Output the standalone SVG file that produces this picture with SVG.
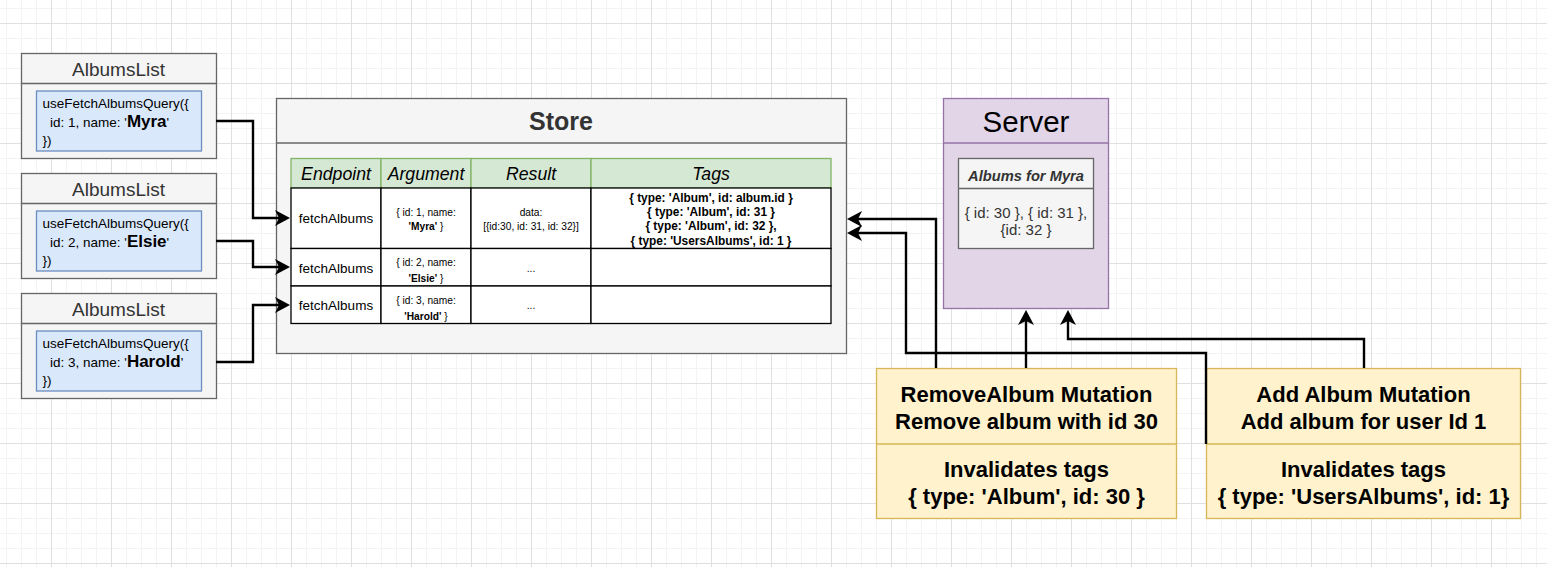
<svg xmlns="http://www.w3.org/2000/svg" width="1547" height="567" viewBox="0 0 1547 567">
<defs>
<pattern id="grid" x="51" y="23" width="60" height="60" patternUnits="userSpaceOnUse">
<rect x="0" y="0" width="60" height="60" fill="#ffffff"/>
<g fill="#f3f3f3">
<rect x="15" y="0" width="1" height="60"/><rect x="30" y="0" width="1" height="60"/><rect x="45" y="0" width="1" height="60"/>
<rect x="0" y="15" width="60" height="1"/><rect x="0" y="30" width="60" height="1"/><rect x="0" y="45" width="60" height="1"/>
</g>
<g fill="#e0e0e0"><rect x="0" y="0" width="1" height="60"/><rect x="0" y="0" width="60" height="1"/></g>
</pattern>
<marker id="arr" viewBox="0 -8 16 16" markerWidth="16" markerHeight="16" refX="4" refY="0" orient="auto" markerUnits="userSpaceOnUse" overflow="visible">
<path d="M0,-8 L15,0 L0,8 L4,0 Z" fill="#000"/>
</marker>
</defs>
<style>
text{font-family:"Liberation Sans",Arial,Helvetica,sans-serif}
.gray{fill:#f5f5f5;stroke:#666666;stroke-width:1.3}
.blue{fill:#dae8fc;stroke:#6c8ebf;stroke-width:1.3}
.sep{stroke:#666666;stroke-width:1.3;fill:none}
.ttl{font-size:19px;fill:#333333;text-anchor:middle}
.code{font-size:13.5px;fill:#000}
.nm{font-size:17px;font-weight:bold}
.th{fill:#d5e8d4;stroke:#82b366;stroke-width:1.3}
.hd{font-size:17.7px;font-style:italic;text-anchor:middle;fill:#000}
.cell{fill:#ffffff;stroke:#000;stroke-width:1.3}
.ep{font-size:13.5px;text-anchor:middle}
.sm{font-size:10.2px;text-anchor:middle;fill:#000}
.tag{font-size:11.9px;font-weight:bold;text-anchor:middle}
.mut{fill:#fff2cc;stroke:#d6b656;stroke-width:1.3}
.mt{font-size:22px;font-weight:bold;text-anchor:middle;fill:#000}
.conn path{fill:none;stroke:#000;stroke-width:2.4;marker-end:url(#arr)}
</style>
<rect x="0" y="0" width="1547" height="567" fill="url(#grid)"/>

<g id="albumslist-myra" transform="translate(21,53)">
<rect class="gray" x="0.5" y="0.5" width="195" height="105"/>
<line class="sep" x1="0.5" y1="30.5" x2="195.5" y2="30.5"/>
<text class="ttl" x="97.5" y="23">AlbumsList</text>
<rect class="blue" x="15.5" y="38" width="165" height="60"/>
<text class="code" x="21.5" y="55">useFetchAlbumsQuery({</text>
<text class="code" x="29" y="74">id: 1, name: '<tspan class="nm">Myra</tspan>'</text>
<text class="code" x="21.5" y="92">})</text>
</g>

<g id="albumslist-elsie" transform="translate(21,173)">
<rect class="gray" x="0.5" y="0.5" width="195" height="105"/>
<line class="sep" x1="0.5" y1="30.5" x2="195.5" y2="30.5"/>
<text class="ttl" x="97.5" y="23">AlbumsList</text>
<rect class="blue" x="15.5" y="38" width="165" height="60"/>
<text class="code" x="21.5" y="55">useFetchAlbumsQuery({</text>
<text class="code" x="29" y="74">id: 2, name: '<tspan class="nm">Elsie</tspan>'</text>
<text class="code" x="21.5" y="92">})</text>
</g>

<g id="albumslist-harold" transform="translate(21,293)">
<rect class="gray" x="0.5" y="0.5" width="195" height="105"/>
<line class="sep" x1="0.5" y1="30.5" x2="195.5" y2="30.5"/>
<text class="ttl" x="97.5" y="23">AlbumsList</text>
<rect class="blue" x="15.5" y="38" width="165" height="60"/>
<text class="code" x="21.5" y="55">useFetchAlbumsQuery({</text>
<text class="code" x="29" y="74">id: 3, name: '<tspan class="nm">Harold</tspan>'</text>
<text class="code" x="21.5" y="92">})</text>
</g>

<g id="store">
<rect class="gray" x="276.5" y="98.5" width="570" height="255"/>
<line class="sep" x1="276.5" y1="143" x2="846.5" y2="143"/>
<text x="561" y="130" font-size="25" font-weight="bold" fill="#333333" text-anchor="middle">Store</text>
<g id="table">
<rect class="th" x="291" y="158.5" width="90" height="29.5"/>
<rect class="th" x="381" y="158.5" width="90" height="29.5"/>
<rect class="th" x="471" y="158.5" width="120" height="29.5"/>
<rect class="th" x="591" y="158.5" width="240" height="29.5"/>
<text class="hd" x="336" y="179.5">Endpoint</text>
<text class="hd" x="426" y="179.5">Argument</text>
<text class="hd" x="531" y="179.5">Result</text>
<text class="hd" x="711" y="179.5">Tags</text>
<rect class="cell" x="291" y="188" width="90" height="60.5"/>
<rect class="cell" x="381" y="188" width="90" height="60.5"/>
<rect class="cell" x="471" y="188" width="120" height="60.5"/>
<rect class="cell" x="591" y="188" width="240" height="60.5"/>
<rect class="cell" x="291" y="248.5" width="90" height="37.5"/>
<rect class="cell" x="381" y="248.5" width="90" height="37.5"/>
<rect class="cell" x="471" y="248.5" width="120" height="37.5"/>
<rect class="cell" x="591" y="248.5" width="240" height="37.5"/>
<rect class="cell" x="291" y="286" width="90" height="37.5"/>
<rect class="cell" x="381" y="286" width="90" height="37.5"/>
<rect class="cell" x="471" y="286" width="120" height="37.5"/>
<rect class="cell" x="591" y="286" width="240" height="37.5"/>
<text class="ep" x="336" y="223">fetchAlbums</text>
<text class="ep" x="336" y="273">fetchAlbums</text>
<text class="ep" x="336" y="310">fetchAlbums</text>
<text class="sm" x="426" y="216">{ id: 1, name:</text>
<text class="sm" x="426" y="230"><tspan font-weight="bold">'Myra'</tspan> }</text>
<text class="sm" x="426" y="266">{ id: 2, name:</text>
<text class="sm" x="426" y="282"><tspan font-weight="bold">'Elsie'</tspan> }</text>
<text class="sm" x="426" y="303.5">{ id: 3, name:</text>
<text class="sm" x="426" y="319.5"><tspan font-weight="bold">'Harold'</tspan> }</text>
<text class="sm" x="531" y="216">data:</text>
<text class="sm" x="531" y="230">[{id:30, id: 31, id: 32}]</text>
<text class="sm" x="531" y="272">...</text>
<text class="sm" x="531" y="309">...</text>
<text class="tag" x="711" y="201.6">{ type: 'Album', id: album.id }</text>
<text class="tag" x="711" y="216">{ type: 'Album', id: 31 }</text>
<text class="tag" x="711" y="230.3">{ type: 'Album', id: 32 },</text>
<text class="tag" x="711" y="244.5">{ type: 'UsersAlbums', id: 1 }</text>
</g>
</g>

<g id="server">
<rect x="943.5" y="98.5" width="165" height="210" fill="#e1d5e7" stroke="#9673a6" stroke-width="1.3"/>
<line x1="943.5" y1="143" x2="1108.5" y2="143" stroke="#9673a6" stroke-width="1.3"/>
<text x="1026" y="131.5" font-size="29.5" fill="#000" text-anchor="middle">Server</text>
<g id="albums-for-myra">
<rect class="gray" x="958.5" y="158.5" width="135" height="90"/>
<line class="sep" x1="958.5" y1="188.5" x2="1093.5" y2="188.5"/>
<text x="1026" y="180.5" font-size="14.7" font-weight="bold" font-style="italic" fill="#333333" text-anchor="middle">Albums for Myra</text>
<text x="1026" y="217.5" font-size="15" fill="#333333" text-anchor="middle">{ id: 30 }, { id: 31 },</text>
<text x="1026" y="234.5" font-size="15" fill="#333333" text-anchor="middle">{id: 32 }</text>
</g>
</g>

<g id="remove-album-mutation">
<rect class="mut" x="876.5" y="368.5" width="300" height="150"/>
<line x1="876.5" y1="444" x2="1176.5" y2="444" stroke="#d6b656" stroke-width="1.3"/>
<text class="mt" x="1026.5" y="402">RemoveAlbum Mutation</text>
<text class="mt" x="1026.5" y="428.5">Remove album with id 30</text>
<text class="mt" x="1026.5" y="477">Invalidates tags</text>
<text class="mt" x="1026.5" y="503.5">{ type: 'Album', id: 30 }</text>
</g>

<g id="add-album-mutation">
<rect class="mut" x="1206.5" y="368.5" width="314" height="150"/>
<line x1="1206.5" y1="444" x2="1520.5" y2="444" stroke="#d6b656" stroke-width="1.3"/>
<text class="mt" x="1363.5" y="402">Add Album Mutation</text>
<text class="mt" x="1363.5" y="428.5">Add album for user Id 1</text>
<text class="mt" x="1363.5" y="477">Invalidates tags</text>
<text class="mt" x="1363.5" y="503.5">{ type: 'UsersAlbums', id: 1}</text>
</g>

<g id="connectors" class="conn">
<path d="M216,121 H253 V218 H279"/>
<path d="M216,241 H253 V267 H279"/>
<path d="M216,362 H253 V305 H279"/>
<path d="M936,368 V219 H858"/>
<path d="M1206,444 V353 H906 V233 H858"/>
<path d="M1026,368 V321"/>
<path d="M1364,368 V339 H1068 V321"/>
</g>
</svg>
